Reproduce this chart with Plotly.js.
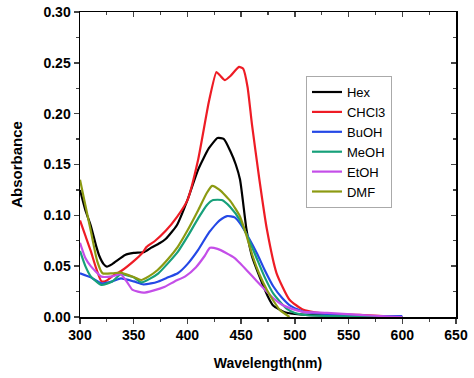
<!DOCTYPE html>
<html><head><meta charset="utf-8">
<script src="https://cdn.plot.ly/plotly-3.0.1.min.js"></script>
<style>body{margin:0;background:#fff}#c{width:474px;height:378px}</style>
</head><body><div id="c"></div>
<script>
const hexX = [300,305,310,315,318,322,325,330,342,350,360,366,374,380,390,400,410,420,428,434,440,445,449,455,460,467,475,480,490,500,510,550,600];
const hexY = [0.125,0.105,0.09,0.07,0.06,0.052,0.0495,0.052,0.061,0.063,0.064,0.068,0.0725,0.077,0.09,0.115,0.145,0.166,0.176,0.175,0.163,0.15,0.135,0.086,0.06,0.04,0.02,0.011,0.005,0.003,0.002,0.001,0.0];
const chclX = [300,305,310,315,320,325,330,338,350,358,362,370,380,390,400,410,420,427,430,435,440,448,452,456,460,467,474,483,495,508,530,560,600];
const chclY = [0.095,0.08,0.065,0.048,0.035,0.036,0.04,0.045,0.055,0.063,0.069,0.075,0.085,0.098,0.115,0.155,0.212,0.241,0.238,0.233,0.237,0.246,0.244,0.226,0.19,0.135,0.086,0.043,0.017,0.007,0.003,0.002,0.0];
const buohX = [300,310,320,330,338,350,359,366,373,382,391,400,410,420,430,437,444,449,457,465,472,480,488,496,508,530,560,600];
const buohY = [0.043,0.039,0.033,0.035,0.038,0.035,0.032,0.033,0.035,0.039,0.043,0.052,0.066,0.083,0.095,0.0993,0.098,0.092,0.078,0.062,0.046,0.030,0.019,0.011,0.005,0.003,0.001,0.001];
const meohX = [300,305,310,320,330,338,350,357,364,373,382,391,400,410,418,424,432,440,449,456,464,472,480,492,500,510,530,600];
const meohY = [0.065,0.05,0.04,0.0315,0.035,0.042,0.039,0.034,0.037,0.043,0.053,0.064,0.079,0.097,0.110,0.115,0.115,0.108,0.095,0.079,0.059,0.039,0.023,0.0085,0.004,0.002,0.001,0.0];
const etohX = [300,305,310,320,330,338,344,349,359,368,379,388,398,408,416,421,428,436,444,449,456,464,472,480,488,496,508,530,560,580,600];
const etohY = [0.073,0.058,0.05,0.0397,0.040,0.042,0.034,0.0266,0.0239,0.026,0.0298,0.035,0.040,0.049,0.060,0.068,0.067,0.063,0.058,0.0528,0.045,0.036,0.027,0.0184,0.012,0.0085,0.005,0.004,0.002,0.001,0.0];
const dmfX = [300,305,310,316,321,330,338,348,357,364,372,382,391,400,410,418,423,430,440,449,455,461,467,474,480,486,495];
const dmfY = [0.135,0.11,0.085,0.055,0.043,0.043,0.0437,0.040,0.0364,0.040,0.046,0.057,0.069,0.085,0.105,0.122,0.129,0.125,0.114,0.0987,0.08,0.059,0.042,0.0266,0.016,0.007,0.0];

const names = ['Hex','CHCl3','BuOH','MeOH','EtOH','DMF'];
const colors = ['#000000','#ee1c25','#2448e6','#17a07a','#c44ee8','#8c9a12'];
const xs = [hexX,chclX,buohX,meohX,etohX,dmfX];
const ys = [hexY,chclY,buohY,meohY,etohY,dmfY];

const traces = names.map((n,i)=>({x:xs[i],y:ys[i],name:n,type:'scatter',mode:'lines',
  line:{color:colors[i],width:2.2,shape:'spline',smoothing:0.5}}));
traces.push({x:[300],y:[0],xaxis:'x2',yaxis:'y2',showlegend:false,mode:'markers',marker:{opacity:0},hoverinfo:'skip'});

const fam = 'Liberation Sans, Arial, sans-serif';
const tickFont = {family:fam,size:14,color:'#000',weight:'bold'};
const layout = {
  width:474,height:378,
  margin:{l:80,r:18,t:12,b:61},
  paper_bgcolor:'#fff',plot_bgcolor:'#fff',
  showlegend:true,
  legend:{x:0.601,y:0.79,xanchor:'left',yanchor:'top',bordercolor:'#aaaaaa',borderwidth:1,
    font:{family:fam,size:13,color:'#000'},tracegroupgap:0,itemwidth:30},
  xaxis:{range:[300,650],tickvals:[300,350,400,450,500,550,600,650],ticks:'outside',ticklen:5,tickwidth:1.5,
    showline:true,linecolor:'#000',linewidth:1.5,showgrid:false,zeroline:false,tickfont:tickFont,
    minor:{dtick:25,tick0:300,ticks:'outside',ticklen:3,tickwidth:1.2,showgrid:false},
    title:{text:'Wavelength(nm)',font:{family:fam,size:14,weight:'bold',color:'#000'},standoff:16}},
  yaxis:{range:[0,0.30],tickvals:[0,0.05,0.10,0.15,0.20,0.25,0.30],tickformat:'.2f',ticks:'outside',ticklen:5,tickwidth:1.5,
    showline:true,linecolor:'#000',linewidth:1.5,showgrid:false,zeroline:false,tickfont:tickFont,
    minor:{dtick:0.025,tick0:0,ticks:'outside',ticklen:3,tickwidth:1.2,showgrid:false},
    title:{text:'Absorbance',font:{family:fam,size:15,weight:'bold',color:'#000'},standoff:17}},
  xaxis2:{overlaying:'x',side:'top',range:[300,650],tickvals:[300,350,400,450,500,550,600,650],ticks:'inside',ticklen:5,tickwidth:1.5,
    showline:true,linecolor:'#000',linewidth:1.5,showgrid:false,zeroline:false,showticklabels:false,
    minor:{dtick:25,tick0:300,ticks:'inside',ticklen:3,tickwidth:1.2,showgrid:false}},
  yaxis2:{overlaying:'y',side:'right',range:[0,0.30],tickvals:[0,0.05,0.10,0.15,0.20,0.25,0.30],ticks:'inside',ticklen:5,tickwidth:1.5,
    showline:true,linecolor:'#000',linewidth:1.5,showgrid:false,zeroline:false,showticklabels:false,
    minor:{dtick:0.025,tick0:0,ticks:'inside',ticklen:3,tickwidth:1.2,showgrid:false}}
};
Plotly.newPlot('c',traces,layout,{displayModeBar:false,staticPlot:true});
</script></body></html>
